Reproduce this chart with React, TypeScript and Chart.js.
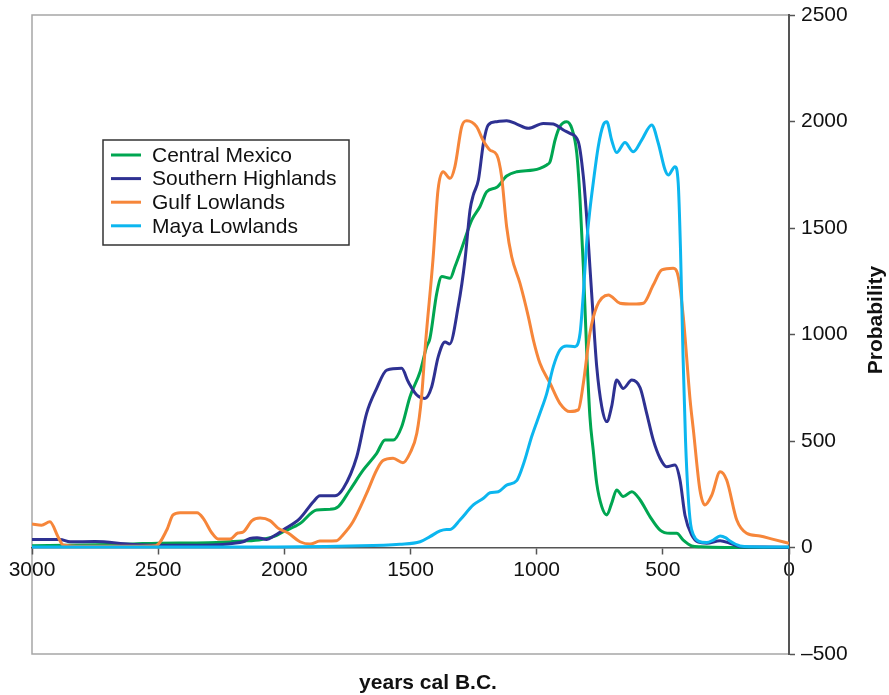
import { useEffect, useRef } from 'react';
import { Chart, registerables } from 'chart.js';

Chart.register(...registerables);

// Axis tick values
const yearTicks = [3000, 2500, 2000, 1500, 1000, 500, 0];
const probabilityTicks = [-500, 0, 500, 1000, 1500, 2000, 2500];

// Summed probability curves, years cal B.C.
const centralMexicoYears = [3000, 2800, 2600, 2500, 2300, 2164, 2090, 2040, 2004, 1938, 1872, 1819, 1786, 1740, 1687, 1634, 1601, 1568, 1535, 1502, 1462, 1436, 1423, 1396, 1376, 1343, 1324, 1297, 1257, 1225, 1198, 1158, 1119, 1079, 1013, 987, 960, 947, 927, 908, 881, 861, 841, 828, 815, 802, 789, 776, 762, 742, 722, 703, 683, 657, 623, 590, 551, 511, 472, 445, 419, 386, 350, 250, 0];
const centralMexicoValues = [8, 12, 17, 20, 22, 30, 38, 52, 74, 113, 176, 179, 192, 270, 364, 442, 505, 505, 567, 708, 825, 943, 982, 1193, 1272, 1264, 1318, 1405, 1538, 1600, 1670, 1691, 1744, 1764, 1772, 1780, 1796, 1811, 1913, 1976, 1999, 1968, 1850, 1631, 1318, 927, 614, 458, 301, 192, 153, 207, 270, 239, 262, 223, 145, 82, 67, 67, 35, 8, 3, 0, 0];

const southernHighlandsYears = [3000, 2889, 2849, 2750, 2612, 2500, 2283, 2200, 2164, 2136, 2108, 2070, 2040, 2005, 1938, 1885, 1859, 1799, 1766, 1713, 1674, 1634, 1594, 1535, 1509, 1475, 1443, 1416, 1390, 1363, 1345, 1311, 1284, 1264, 1251, 1231, 1211, 1192, 1158, 1119, 1079, 1033, 974, 934, 894, 868, 835, 815, 802, 789, 776, 762, 742, 722, 703, 683, 657, 623, 590, 564, 538, 511, 485, 452, 432, 412, 386, 359, 326, 273, 234, 194, 100, 0];
const southernHighlandsValues = [38, 38, 27, 28, 15, 10, 12, 20, 27, 43, 46, 38, 55, 82, 137, 215, 243, 243, 278, 426, 630, 747, 833, 841, 778, 716, 700, 755, 896, 965, 955, 1131, 1350, 1585, 1655, 1725, 1898, 1984, 1999, 2004, 1988, 1968, 1991, 1988, 1960, 1944, 1905, 1741, 1553, 1318, 1084, 849, 661, 591, 661, 786, 747, 786, 750, 630, 505, 419, 379, 387, 317, 150, 60, 25, 20, 32, 20, 4, 2, 1];

const gulfLowlandsYears = [3000, 2962, 2929, 2897, 2877, 2800, 2600, 2510, 2466, 2441, 2413, 2346, 2322, 2287, 2263, 2215, 2184, 2164, 2128, 2096, 2057, 2025, 1985, 1938, 1898, 1859, 1793, 1768, 1728, 1674, 1634, 1609, 1569, 1530, 1502, 1475, 1456, 1440, 1411, 1391, 1371, 1343, 1324, 1297, 1277, 1238, 1213, 1185, 1158, 1139, 1119, 1099, 1066, 1033, 1013, 987, 947, 908, 868, 835, 815, 789, 762, 716, 670, 617, 577, 538, 504, 459, 439, 419, 392, 379, 353, 333, 306, 273, 247, 207, 168, 115, 62, 0];
const gulfLowlandsValues = [110, 105, 121, 51, 12, 6, 6, 8, 82, 153, 163, 163, 138, 68, 40, 40, 68, 72, 126, 138, 126, 91, 68, 27, 16, 30, 32, 59, 121, 254, 364, 408, 419, 398, 443, 536, 708, 965, 1350, 1678, 1764, 1733, 1788, 1976, 2004, 1976, 1913, 1866, 1843, 1741, 1506, 1365, 1240, 1084, 974, 865, 771, 677, 638, 646, 771, 1006, 1131, 1186, 1147, 1143, 1147, 1232, 1303, 1311, 1272, 1084, 693, 552, 270, 200, 246, 356, 317, 129, 67, 54, 38, 20];

const mayaLowlandsYears = [3000, 2500, 2136, 1740, 1542, 1462, 1423, 1383, 1357, 1343, 1304, 1251, 1211, 1185, 1152, 1119, 1079, 1050, 1020, 987, 960, 934, 908, 881, 848, 828, 815, 802, 789, 776, 756, 736, 722, 703, 683, 650, 617, 584, 544, 518, 491, 478, 452, 439, 430, 420, 410, 400, 390, 379, 359, 326, 300, 273, 250, 234, 194, 150, 0];
const mayaLowlandsValues = [2, 2, 2, 7, 15, 27, 51, 78, 85, 85, 129, 200, 231, 257, 262, 293, 314, 400, 520, 630, 724, 849, 927, 946, 943, 1006, 1193, 1428, 1585, 1710, 1882, 1984, 1999, 1913, 1854, 1901, 1858, 1913, 1984, 1898, 1772, 1749, 1788, 1710, 1400, 900, 500, 250, 110, 60, 30, 23, 35, 54, 45, 30, 7, 3, 2];

const seriesLabels = ['Central Mexico', 'Southern Highlands', 'Gulf Lowlands', 'Maya Lowlands'];
const seriesColors = ['#00a651', '#2e3192', '#f6863a', '#0cb6ef'];

const FONT = "'Liberation Sans', Arial, Helvetica, sans-serif";
const FONT_SIZE = 21;

const toPoints = (years: number[], values: number[]) =>
  years.map((yr, i) => ({ x: yr, y: values[i] }));

// Grey frame around the plotting area
const framePlugin = {
  id: 'plotFrame',
  beforeDraw(chart: any) {
    const { ctx, chartArea: a } = chart;
    ctx.save();
    ctx.strokeStyle = '#a6a6a6';
    ctx.lineWidth = 1.5;
    ctx.strokeRect(a.left, a.top, a.right - a.left, a.bottom - a.top);
    ctx.restore();
  },
};

// Boxed legend inside the plot, plus the two axis titles
const annotationPlugin = {
  id: 'legendAndTitles',
  afterDraw(chart: any) {
    const { ctx } = chart;
    ctx.save();

    const bx = 103, by = 140, bw = 246, bh = 105;
    ctx.fillStyle = '#ffffff';
    ctx.fillRect(bx, by, bw, bh);
    ctx.strokeStyle = '#333333';
    ctx.lineWidth = 1.5;
    ctx.strokeRect(bx, by, bw, bh);

    ctx.font = `${FONT_SIZE}px ${FONT}`;
    ctx.textBaseline = 'middle';
    ctx.textAlign = 'left';
    chart.data.datasets.forEach((ds: any, i: number) => {
      const y = 155 + i * 23.6;
      ctx.strokeStyle = ds.borderColor;
      ctx.lineWidth = 3;
      ctx.beginPath();
      ctx.moveTo(111, y);
      ctx.lineTo(141, y);
      ctx.stroke();
      ctx.fillStyle = '#111111';
      ctx.fillText(ds.label, 152, y + 1);
    });

    ctx.font = `bold ${FONT_SIZE}px ${FONT}`;
    ctx.fillStyle = '#111111';
    ctx.textAlign = 'center';
    ctx.fillText('years cal B.C.', 428, 683);

    ctx.translate(876, 320);
    ctx.rotate(-Math.PI / 2);
    ctx.fillText('Probability', 0, 0);
    ctx.restore();
  },
};

export default function App() {
  const canvasRef = useRef<HTMLCanvasElement | null>(null);

  useEffect(() => {
    if (!canvasRef.current) return;
    const seriesYears = [centralMexicoYears, southernHighlandsYears, gulfLowlandsYears, mayaLowlandsYears];
    const seriesValues = [centralMexicoValues, southernHighlandsValues, gulfLowlandsValues, mayaLowlandsValues];

    const chart = new Chart(canvasRef.current, {
      type: 'line',
      data: {
        datasets: seriesLabels.map((label, i) => ({
          label,
          data: toPoints(seriesYears[i], seriesValues[i]),
          borderColor: seriesColors[i],
          backgroundColor: seriesColors[i],
          borderWidth: 3,
          pointRadius: 0,
          fill: false,
          cubicInterpolationMode: 'monotone' as const,
          order: seriesLabels.length - i,
        })),
      },
      options: {
        animation: false,
        responsive: true,
        maintainAspectRatio: false,
        layout: { padding: { left: 32, top: 15, right: 0, bottom: 41 } },
        plugins: {
          legend: { display: false },
          tooltip: { enabled: false },
        },
        font: { family: FONT, size: FONT_SIZE },
        scales: {
          x: {
            type: 'linear',
            position: { y: 0 } as any,
            reverse: true,
            min: 0,
            max: 3000,
            afterBuildTicks: (s: any) => {
              s.ticks = yearTicks.map((v) => ({ value: v }));
            },
            afterFit: (s: any) => {
              s.height = 0;
              s.paddingLeft = 0;
              s.paddingRight = 0;
              s.paddingTop = 0;
              s.paddingBottom = 0;
            },
            ticks: {
              font: { family: FONT, size: FONT_SIZE },
              color: '#111111',
              padding: 4,
              maxRotation: 0,
              autoSkip: false,
              callback: (v: any) => String(v),
            },
            grid: {
              display: true,
              drawOnChartArea: false,
              drawTicks: true,
              tickLength: 6,
              tickColor: '#555555',
              tickWidth: 1.5,
            },
            border: { display: true, color: '#555555', width: 1.5 },
          },
          y: {
            type: 'linear',
            position: 'right',
            min: -500,
            max: 2500,
            afterBuildTicks: (s: any) => {
              s.ticks = probabilityTicks.map((v) => ({ value: v }));
            },
            afterFit: (s: any) => {
              s.width = 100;
              s.paddingTop = 0;
              s.paddingBottom = 0;
              s.paddingLeft = 0;
              s.paddingRight = 0;
            },
            ticks: {
              font: { family: FONT, size: FONT_SIZE },
              color: '#111111',
              padding: 6,
              callback: (v: any) => (Number(v) < 0 ? '\u2013' + Math.abs(Number(v)) : String(v)),
            },
            grid: {
              display: true,
              drawOnChartArea: false,
              drawTicks: true,
              tickLength: 6,
              tickColor: '#555555',
              tickWidth: 1.5,
            },
            border: { display: true, color: '#555555', width: 2 },
          },
        },
      },
      plugins: [framePlugin, annotationPlugin],
    } as any);

    return () => chart.destroy();
  }, []);

  return (
    <div style={{ position: 'fixed', left: 0, top: 0, width: 889, height: 695, background: '#ffffff' }}>
      <canvas ref={canvasRef} />
    </div>
  );
}
